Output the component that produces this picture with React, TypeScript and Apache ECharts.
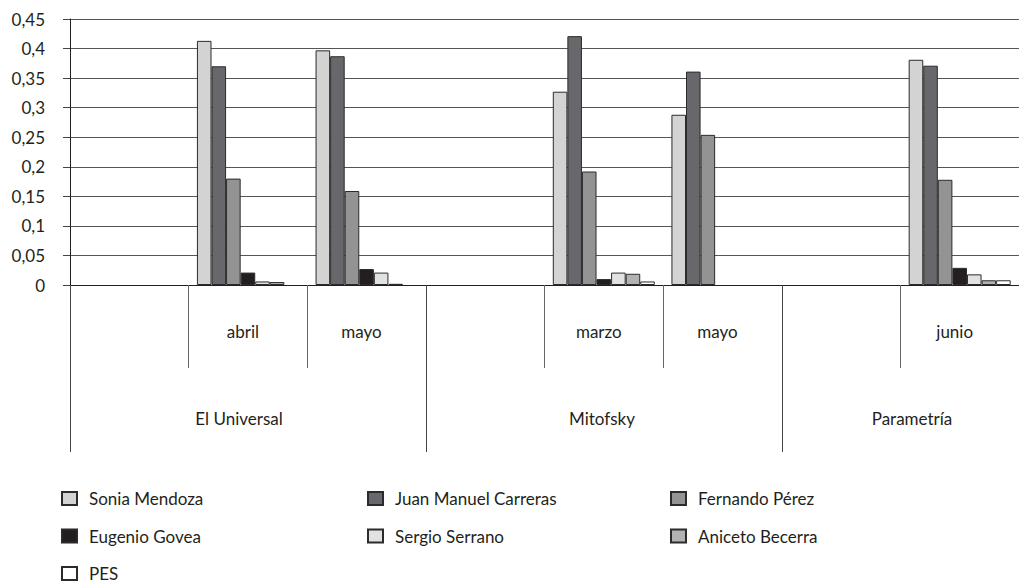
import { useEffect, useRef } from "react";
import * as echarts from "echarts";

const months = ["", "abril", "mayo", "", "marzo", "mayo", "", "junio"];
const groupStarts = [0, 3, 6];
const groupNames = ["El Universal", "Mitofsky", "Parametría"];
const seriesNames = [
  "Sonia Mendoza",
  "Juan Manuel Carreras",
  "Fernando Pérez",
  "Eugenio Govea",
  "Sergio Serrano",
  "Aniceto Becerra",
  "PES",
];
const sonia = [null, 0.413, 0.397, null, 0.327, 0.288, null, 0.381];
const juan = [null, 0.37, 0.387, null, 0.421, 0.361, null, 0.371];
const fernando = [null, 0.18, 0.159, null, 0.192, 0.254, null, 0.178];
const eugenio = [null, 0.021, 0.027, null, 0.01, 0, null, 0.029];
const sergio = [null, 0.006, 0.021, null, 0.021, 0, null, 0.018];
const aniceto = [null, 0.005, 0.002, null, 0.019, 0, null, 0.008];
const pes = [null, 0, 0, null, 0.006, 0, null, 0.008];
const seriesValues = [sonia, juan, fernando, eugenio, sergio, aniceto, pes];
const seriesColors = ["#d3d3d3", "#68686c", "#939393", "#231f20", "#e2e2e2", "#b2b2b2", "#ffffff"];
const legendColumns = [
  ["Sonia Mendoza", "Eugenio Govea", "PES"],
  ["Juan Manuel Carreras", "Sergio Serrano"],
  ["Fernando Pérez", "Aniceto Becerra"],
];
const legendLefts = [61, 367, 670];
const groupLabelX = [239, 602, 912];

const FONT = "Lato, 'Open Sans', sans-serif";
const TEXT = "#231f20";

export default function App() {
  const ref = useRef<HTMLDivElement>(null);
  useEffect(() => {
    if (!ref.current) return;
    const chart = echarts.init(ref.current, null, { renderer: "svg" });
    const option: any = {
      animation: false,
      textStyle: { fontFamily: FONT, color: TEXT },
      grid: { left: 70, right: -7, top: 19, bottom: 300, containLabel: false },
      xAxis: [
        {
          type: "category",
          data: months,
          position: "bottom",
          axisLine: { show: true, lineStyle: { color: "#231f20", width: 1 } },
          axisTick: { show: true, interval: 0, length: 83, lineStyle: { color: "#666", width: 1 } },
          axisLabel: {
            interval: 0,
            margin: 38,
            fontSize: 17,
            fontFamily: FONT,
            color: TEXT,
            padding: [0, 10, 0, 0],
          },
          splitLine: { show: false },
        },
        {
          type: "category",
          data: months,
          position: "bottom",
          axisLine: { show: false },
          axisTick: {
            show: true,
            interval: (i: number) => groupStarts.includes(i),
            length: 167,
            lineStyle: { color: "#444", width: 1 },
          },
          axisLabel: { show: false },
          splitLine: { show: false },
        },
      ],
      yAxis: {
        type: "value",
        min: 0,
        max: 0.45,
        interval: 0.05,
        axisLine: { show: true, lineStyle: { color: "#231f20", width: 1 } },
        axisTick: { show: true, length: 7, lineStyle: { color: "#444" } },
        axisLabel: {
          margin: 25,
          fontSize: 17,
          fontFamily: FONT,
          color: TEXT,
          formatter: (v: number) => String(parseFloat(v.toFixed(2))).replace(".", ","),
        },
        splitLine: { show: true, lineStyle: { color: "#555", width: 1 } },
      },
      legend: legendColumns.map((col, i) => ({
        orient: "vertical",
        left: legendLefts[i],
        top: 490,
        height: 120,
        padding: 0,
        data: col,
        itemWidth: 15,
        itemHeight: 13,
        itemGap: 20.5,
        icon: "rect",
        selectedMode: false,
        textStyle: {
          fontFamily: FONT,
          fontSize: 17,
          lineHeight: 17,
          color: TEXT,
          padding: [0, 0, 0, 7],
        },
      })),
      series: seriesNames.map((name, i) => ({
        name,
        type: "bar",
        data: seriesValues[i].map((v) =>
          v === 0 ? { value: 0, itemStyle: { borderWidth: 0 } } : v
        ),
        barGap: "0%",
        barCategoryGap: "14%",
        itemStyle: { color: seriesColors[i], borderColor: "#2b2b2b", borderWidth: 1 },
      })),
      graphic: groupNames.map((g, i) => ({
        type: "text",
        x: groupLabelX[i],
        y: 418,
        style: {
          text: g,
          fontFamily: FONT,
          fontSize: 17,
          fill: TEXT,
          align: "center",
          verticalAlign: "middle",
        },
      })),
    };
    chart.setOption(option);
    return () => chart.dispose();
  }, []);
  return (
    <div
      ref={ref}
      style={{ position: "absolute", left: 0, top: 0, width: 1019, height: 585, background: "#fff" }}
    />
  );
}
